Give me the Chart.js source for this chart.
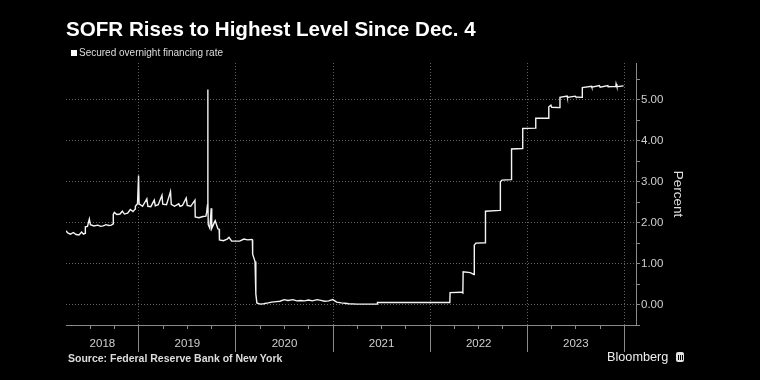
<!DOCTYPE html>
<html>
<head>
<meta charset="utf-8">
<script src="https://cdn.jsdelivr.net/npm/chart.js@4.4.1/dist/chart.umd.min.js"></script>
<style>
  html, body { margin: 0; padding: 0; background: #000; }
  #wrap { position: relative; width: 760px; height: 380px; overflow: hidden; background: #000; }
  #wrap canvas { position: absolute; left: 0; top: 0; }
  .title {
    position: absolute; left: 66px; top: 18.5px; white-space: nowrap;
    font: bold 20.6px/20.6px "Liberation Sans", Arial, sans-serif; color: #fff;
  }
  .legend-box { position: absolute; left: 71px; top: 50px; width: 6px; height: 6px; background: #fff; }
  .legend-text {
    position: absolute; left: 79px; top: 48px; white-space: nowrap;
    font: 10px/10px "Liberation Sans", Arial, sans-serif; color: #ddd;
  }
  .source {
    position: absolute; left: 68px; top: 353px; white-space: nowrap;
    font: bold 10.5px/10.5px "Liberation Sans", Arial, sans-serif; color: #ddd;
  }
  .brand {
    position: absolute; left: 607px; top: 351px; white-space: nowrap;
    font: 12.7px/12.7px "Liberation Sans", Arial, sans-serif; color: #eee;
  }
  .brand-icon {
    position: absolute; left: 676px; top: 352px; width: 8px; height: 10px;
    border-radius: 2px; background: #e2e2e2;
  }
  .brand-icon::after {
    content: ""; position: absolute; left: 1.5px; bottom: 2px; width: 5px; height: 5px;
    background: linear-gradient(90deg, #000 0 1px, transparent 1px 2px, #000 2px 3px, transparent 3px 4px, #000 4px 5px);
  }
</style>
</head>
<body>
<div id="wrap">
  <canvas id="chart" width="760" height="380"></canvas>
  <div class="title">SOFR Rises to Highest Level Since Dec. 4</div>
  <div class="legend-box"></div>
  <div class="legend-text">Secured overnight financing rate</div>
  <div class="source">Source: Federal Reserve Bank of New York</div>
  <div class="brand">Bloomberg</div>
  <div class="brand-icon"></div>
</div>
<script>
// ── Data ──────────────────────────────────────────────────
const dates = [
  // 2018
  "2018-04-02", "2018-04-09", "2018-04-19", "2018-04-30", "2018-05-10", "2018-05-21",
  "2018-05-31", "2018-06-07", "2018-06-13", "2018-06-14", "2018-06-22", "2018-06-29",
  "2018-07-03", "2018-07-16", "2018-07-31", "2018-08-10", "2018-08-20", "2018-08-31",
  "2018-09-10", "2018-09-20", "2018-09-26", "2018-09-27", "2018-10-01", "2018-10-10",
  "2018-10-22", "2018-10-31", "2018-11-08", "2018-11-20", "2018-11-30", "2018-12-10",
  "2018-12-18", "2018-12-19", "2018-12-27", "2018-12-31",
  // 2019
  "2019-01-02", "2019-01-15", "2019-01-31", "2019-02-04", "2019-02-15", "2019-02-28",
  "2019-03-04", "2019-03-15", "2019-03-29", "2019-04-01", "2019-04-15", "2019-04-30",
  "2019-05-03", "2019-05-15", "2019-05-31", "2019-06-05", "2019-06-14", "2019-06-28",
  "2019-07-02", "2019-07-15", "2019-07-31", "2019-08-01", "2019-08-15", "2019-08-30",
  "2019-09-10", "2019-09-13", "2019-09-16", "2019-09-17", "2019-09-18", "2019-09-19",
  "2019-09-25", "2019-09-30", "2019-10-02", "2019-10-15", "2019-10-25", "2019-10-30",
  "2019-10-31", "2019-11-15", "2019-11-29", "2019-12-06", "2019-12-16", "2019-12-31",
  // 2020
  "2020-01-15", "2020-01-31", "2020-02-14", "2020-02-28", "2020-03-03", "2020-03-04",
  "2020-03-13", "2020-03-16", "2020-03-20", "2020-04-01", "2020-04-15", "2020-05-01",
  "2020-05-15", "2020-06-01", "2020-06-15", "2020-07-01", "2020-07-15", "2020-08-03",
  "2020-08-17", "2020-09-01", "2020-09-15", "2020-10-01", "2020-10-15", "2020-11-02",
  "2020-11-16", "2020-12-01", "2020-12-15", "2020-12-31",
  // 2021
  "2021-01-15", "2021-02-01", "2021-02-15", "2021-03-01", "2021-04-01", "2021-05-03",
  "2021-06-16", "2021-06-17", "2021-09-01", "2021-12-31",
  // 2022
  "2022-03-16", "2022-03-17", "2022-04-29", "2022-05-04", "2022-05-05", "2022-06-01",
  "2022-06-15", "2022-06-16", "2022-06-22", "2022-07-27", "2022-07-28", "2022-09-21",
  "2022-09-22", "2022-09-28", "2022-11-02", "2022-11-03", "2022-12-14", "2022-12-15",
  // 2023
  "2023-02-01", "2023-02-02", "2023-03-22", "2023-03-23", "2023-03-31", "2023-04-03",
  "2023-05-03", "2023-05-04", "2023-05-31", "2023-06-01", "2023-06-30", "2023-07-03",
  "2023-07-26", "2023-07-27", "2023-08-31", "2023-09-01", "2023-09-29", "2023-10-02",
  "2023-10-31", "2023-11-01", "2023-11-30", "2023-12-01", "2023-12-04", "2023-12-29",
];

const sofr = [
  // 2018
  1.80, 1.75, 1.72, 1.76, 1.71, 1.70,
  1.77, 1.72, 1.74, 1.90, 1.91, 2.09,
  1.95, 1.92, 1.94, 1.91, 1.92, 1.95,
  1.93, 1.94, 1.97, 2.20, 2.25, 2.20,
  2.21, 2.28, 2.21, 2.23, 2.32, 2.27,
  2.33, 2.40, 2.46, 3.15,
  // 2019
  2.46, 2.40, 2.58, 2.40, 2.39, 2.55,
  2.41, 2.44, 2.67, 2.45, 2.44, 2.76,
  2.45, 2.40, 2.46, 2.40, 2.42, 2.60,
  2.42, 2.40, 2.55, 2.14, 2.12, 2.15,
  2.16, 2.25, 2.43, 5.25, 2.55, 1.95,
  1.86, 2.35, 1.86, 2.05, 1.85, 1.84,
  1.58, 1.56, 1.60, 1.64, 1.55, 1.55,
  // 2020
  1.55, 1.60, 1.58, 1.59, 1.58, 1.23,
  1.05, 0.26, 0.04, 0.01, 0.02, 0.04,
  0.06, 0.07, 0.08, 0.12, 0.10, 0.12,
  0.09, 0.10, 0.09, 0.11, 0.09, 0.12,
  0.10, 0.08, 0.09, 0.12,
  // 2021
  0.06, 0.04, 0.03, 0.02, 0.01, 0.01,
  0.01, 0.05, 0.05, 0.05,
  // 2022
  0.05, 0.29, 0.30, 0.28, 0.80, 0.78,
  0.73, 1.45, 1.50, 1.51, 2.28, 2.30,
  3.00, 3.04, 3.05, 3.80, 3.81, 4.30,
  // 2023
  4.31, 4.55, 4.55, 4.83, 4.87, 4.82,
  4.81, 5.06, 5.09, 5.06, 5.09, 5.07,
  5.06, 5.30, 5.33, 5.31, 5.35, 5.31,
  5.35, 5.32, 5.33, 5.39, 5.32, 5.34,
];

const yearLabels = ["2018", "2019", "2020", "2021", "2022", "2023"];
const rateTicks = [-0.5, 0, 0.5, 1, 1.5, 2, 2.5, 3, 3.5, 4, 4.5, 5, 5.5];

// ── Axis range / style ────────────────────────────────────
const X_MIN = 2018.25;
const X_MAX = 2024.12;
const GRID = "rgba(255,255,255,0.38)";
const AXIS = "#8a8a8a";
const LABEL = "#d0d0d0";

function toYearFrac(iso) {
  const [y, m, d] = iso.split("-").map(Number);
  const start = Date.UTC(y, 0, 1);
  const end = Date.UTC(y + 1, 0, 1);
  return y + (Date.UTC(y, m - 1, d) - start) / (end - start);
}

// year label sits in the middle of the visible part of its year
const labelTicks = yearLabels.map((label) => {
  const y = Number(label);
  const from = Math.max(y, X_MIN);
  const to = Math.min(y + 1, X_MAX);
  return { value: (from + to) / 2, label };
});

const quarterTicks = [];
for (let q = Math.ceil(X_MIN * 4 + 0.001); q / 4 <= X_MAX; q++) quarterTicks.push(q / 4);

const xTickValues = [...new Set([...quarterTicks, ...labelTicks.map((t) => t.value)])]
  .sort((a, b) => a - b);

const near = (a, b) => Math.abs(a - b) < 1e-6;
const isYear = (v) => near(v, Math.round(v));
const isQuarter = (v) => quarterTicks.some((q) => near(q, v));
const labelFor = (v) => labelTicks.find((t) => near(t.value, v))?.label ?? "";

Chart.defaults.font.family = '"Liberation Sans", Arial, sans-serif';

new Chart(document.getElementById("chart"), {
  type: "line",
  data: {
    datasets: [
      {
        label: "Secured overnight financing rate",
        data: dates.map((d, i) => ({ x: toYearFrac(d), y: sofr[i] })),
        borderColor: "#f4f4f4",
        borderWidth: 1.4,
        pointRadius: 0,
        tension: 0,
      },
    ],
  },
  options: {
    responsive: false,
    animation: false,
    events: [],
    layout: { padding: { top: 63, left: 66, right: 0, bottom: 0 } },
    plugins: { legend: { display: false }, tooltip: { enabled: false } },
    scales: {
      x: {
        type: "linear",
        position: "bottom",
        min: X_MIN,
        max: X_MAX,
        afterBuildTicks: (s) => { s.ticks = xTickValues.map((v) => ({ value: v })); },
        afterFit: (s) => { s.height = 55; },
        ticks: {
          autoSkip: false,
          maxRotation: 0,
          padding: -15,
          color: LABEL,
          font: { size: 11.5 },
          callback: (v) => labelFor(v),
        },
        grid: {
          color: (c) => (isYear(c.tick.value) ? GRID : "transparent"),
          tickColor: (c) => (isQuarter(c.tick.value) ? AXIS : "transparent"),
          tickBorderDash: (c) => (isYear(c.tick.value) ? [] : [3, 100]),
          tickLength: 27,
        },
        border: { color: AXIS, width: 1, dash: [1, 2] },
      },
      y: {
        position: "right",
        min: -0.5,
        max: 5.9,
        afterBuildTicks: (s) => { s.ticks = rateTicks.map((v) => ({ value: v })); },
        afterFit: (s) => { s.width = 124; },
        ticks: {
          padding: 1,
          color: LABEL,
          font: { size: 11.5 },
          callback: (v) => (Number.isInteger(v) ? v.toFixed(2) : ""),
        },
        grid: {
          color: (c) => (Number.isInteger(c.tick.value) && c.tick.value >= 0 ? GRID : "transparent"),
          tickColor: AXIS,
          tickLength: 4,
        },
        border: { color: AXIS, width: 1, dash: [1, 2] },
        title: {
          display: true,
          text: "Percent",
          color: "#dddddd",
          font: { size: 13.5 },
          padding: { top: 74, bottom: 0 },
        },
      },
    },
  },
});
</script>
</body>
</html>
